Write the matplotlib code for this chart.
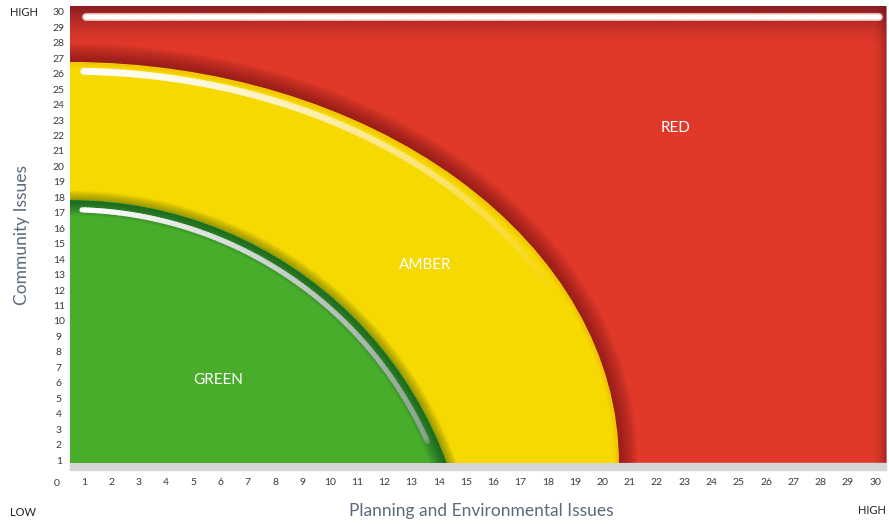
import numpy as np
import matplotlib.pyplot as plt
from matplotlib.patches import Ellipse, Rectangle
from matplotlib.collections import LineCollection
from matplotlib.colors import to_rgb

plt.rcParams['font.family'] = ['Lato', 'DejaVu Sans']

# axis ticks
x_ticks = list(range(1, 31))
y_ticks = list(range(1, 31))
x_lim = (0.48, 30.4)
y_lim = (0.81, 30.38)

# zone boundaries (axis units): ellipse centre + radii
zone_names = ['AMBER', 'GREEN']
zone_cx = [0.48, 0.48]
zone_cy = [0.81, -8.1]
zone_rx = [20.1, 14.7]
zone_ry = [25.9, 25.9]
zone_colors = ['#f6d900', '#49ad2c']

red_color = '#e0392a'

label_names = ['RED', 'AMBER', 'GREEN']
label_x = [22.7, 13.5, 5.9]
label_y = [22.5, 13.6, 6.2]

fig = plt.figure(figsize=(8.89, 5.24), dpi=100)
ax = fig.add_axes([70 / 889, 61 / 524, 816 / 889, 457 / 524])
ax.set_xlim(*x_lim)
ax.set_ylim(*y_lim)
for s in ax.spines.values():
    s.set_visible(False)

# red background
ax.add_patch(Rectangle((0, 0), 1, 1, transform=ax.transAxes, color=red_color, zorder=0))

maroon = to_rgb('#6e1420')
n = 80
g = np.linspace(0, 1, n)
top = np.zeros((n, 1, 4))
top[..., :3] = maroon
top[:, 0, 3] = 0.8 * (1 - g) ** 1.6
ax.imshow(top, extent=[x_lim[0], x_lim[1], y_lim[1] - 2.6, y_lim[1]],
          aspect='auto', zorder=1, interpolation='bilinear')
right = np.zeros((1, n, 4))
right[..., :3] = maroon
right[0, :, 3] = 0.55 * g ** 2
ax.imshow(right, extent=[x_lim[1] - 0.55, x_lim[1], y_lim[0], y_lim[1]],
          aspect='auto', zorder=1, interpolation='bilinear')

# highlight bar on top of red zone
bar_y = y_lim[1] - 0.72
ax.plot([x_lim[0] + 0.6, x_lim[1] - 0.25], [bar_y, bar_y], color='#f2d8d2',
        lw=5.5, solid_capstyle='round', zorder=2)
ax.plot([x_lim[0] + 0.6, x_lim[1] - 0.25], [bar_y, bar_y], color='white',
        lw=3, solid_capstyle='round', zorder=2)


def glow(cx, cy, rx, ry, color, wmax, steps, alpha, z, clip=None):
    for w in np.linspace(wmax, 1, steps):
        e = Ellipse((cx, cy), 2 * rx, 2 * ry, fill=False, edgecolor=color,
                    lw=w, alpha=alpha, zorder=z)
        ax.add_patch(e)
        if clip is not None:
            e.set_clip_path(clip)


def highlight(cx, cy, rx, ry, t0, t1, c0, c1, a0, a1, lw, z):
    t = np.linspace(t0, t1, 120)
    xs = cx + rx * np.cos(t)
    ys = cy + ry * np.sin(t)
    pts = np.column_stack([xs, ys]).reshape(-1, 1, 2)
    segs = np.concatenate([pts[:-1], pts[1:]], axis=1)
    f = np.linspace(0, 1, len(segs))[:, None]
    rgb = (1 - f) * np.array(to_rgb(c0)) + f * np.array(to_rgb(c1))
    a = a0 + (a1 - a0) * f
    lc = LineCollection(segs, colors=np.hstack([rgb, a]), linewidths=lw,
                        capstyle='round', zorder=z)
    ax.add_collection(lc)


# amber zone
acx, acy, arx, ary = zone_cx[0], zone_cy[0], zone_rx[0], zone_ry[0]
glow(acx, acy, arx, ary, '#6a1012', 28, 16, 0.05, 3)
amber = Ellipse((acx, acy), 2 * arx, 2 * ary, color=zone_colors[0], zorder=4)
ax.add_patch(amber)
glow(acx, acy, arx, ary, '#f0a000', 6, 5, 0.08, 5, clip=amber)
highlight(acx, acy, arx - 0.45, ary - 0.55, 1.545, 0.42, '#ffffff', '#ffe080',
          0.95, 0.0, 5, 5)

# green zone
gcx, gcy, grx, gry = zone_cx[1], zone_cy[1], zone_rx[1], zone_ry[1]
glow(gcx, gcy, grx, gry, '#3a5000', 14, 10, 0.06, 6)
green = Ellipse((gcx, gcy), 2 * grx, 2 * gry, color=zone_colors[1], zorder=7)
ax.add_patch(green)
glow(gcx, gcy, grx, gry, '#0c4a20', 22, 14, 0.07, 8, clip=green)
highlight(gcx, gcy, grx - 0.35, gry - 0.6, 1.54, 0.42, '#ffffff', '#9aa8a0',
          0.95, 0.55, 3.8, 9)

# grey strip under the plot
ax.add_patch(Rectangle((0, -7 / 457), 1, 7 / 457, transform=ax.transAxes,
                       color='#d6d6d6', clip_on=False, zorder=1))

for name, lx, ly in zip(label_names, label_x, label_y):
    ax.text(lx, ly, name, color='white', fontsize=11, ha='center', va='center', zorder=10)

ax.set_xticks(x_ticks)
ax.set_xticklabels([str(v) for v in x_ticks])
ax.set_yticks(y_ticks)
ax.set_yticklabels([str(v) for v in y_ticks])
ax.tick_params(axis='x', length=0, pad=10.5, labelsize=7.5, labelcolor='#3a3a3a')
ax.tick_params(axis='y', length=0, pad=8, labelsize=7.5, labelcolor='#3a3a3a')
for lbl in ax.get_yticklabels():
    lbl.set_ha('center')
fig.text(57 / 889, 1 - 483 / 524, '0', ha='center', va='center', fontsize=7.5, color='#3a3a3a')

ax.set_xlabel('Planning and Environmental Issues', fontsize=12.5, color='#5a6a7c')
ax.xaxis.set_label_coords((481 - 70) / 816, (463 - 511) / 457)
ax.xaxis.label.set_va('center')
ax.set_ylabel('Community Issues', fontsize=12.5, color='#5a6a7c')
ax.yaxis.set_label_coords((22 - 70) / 816, (463 - 235) / 457)
ax.yaxis.label.set_va('center')

fig.text(10 / 889, 1 - 13 / 524, 'HIGH', ha='left', va='center', fontsize=8, color='#222222')
fig.text(10 / 889, 1 - 512 / 524, 'LOW', ha='left', va='center', fontsize=8, color='#222222')
fig.text(886 / 889, 1 - 511 / 524, 'HIGH', ha='right', va='center', fontsize=8, color='#222222')

fig.savefig('out.png', dpi=100)
